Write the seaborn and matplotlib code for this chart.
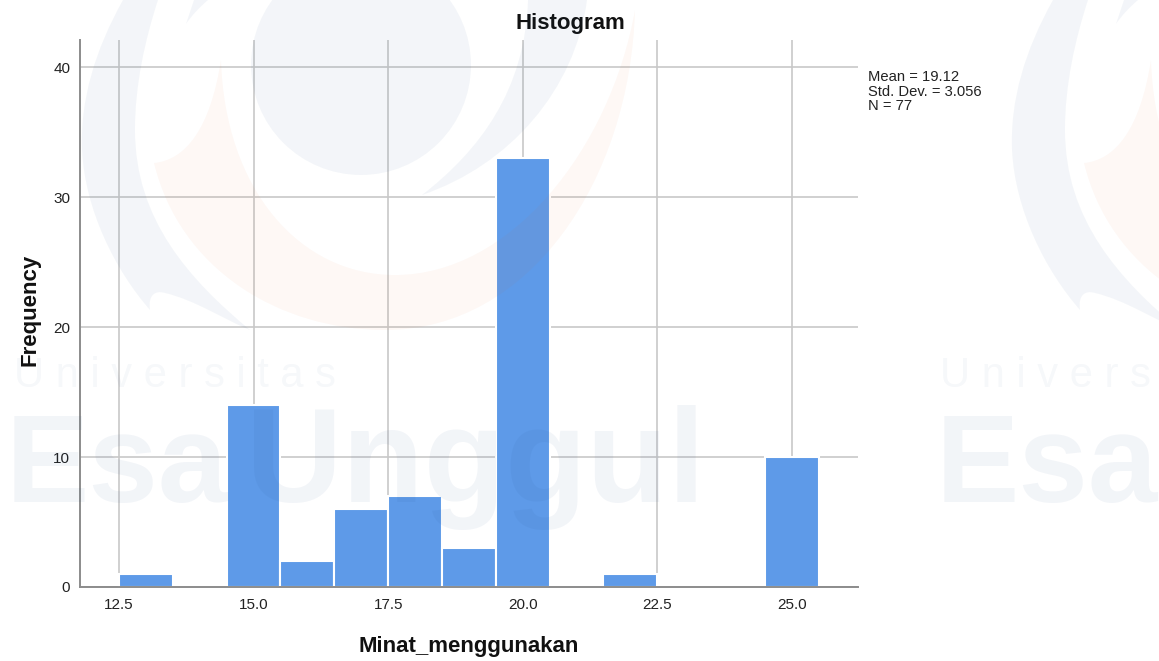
import matplotlib
matplotlib.use('Agg')
import matplotlib.pyplot as plt
from matplotlib.patches import PathPatch
from matplotlib.path import Path
import matplotlib.patches as mpatches
import seaborn as sns

# Nilai dan frekuensi
nilai = [13, 15, 16, 17, 18, 19, 20, 22, 25]
frekuensi = [1, 14, 2, 6, 7, 3, 33, 1, 10]
x_ticks = [12.5, 15.0, 17.5, 20.0, 22.5, 25.0]
y_ticks = [0, 10, 20, 30, 40]
stat_lines = ['Mean = 19.12', 'Std. Dev. = 3.056', 'N = 77']

W, H = 1159, 661
WM_BLUE = '#1f4e8c'
WM_ORANGE = '#e8621a'


def kurva(ax, start, segmen, warna, alpha, dx=0):
    # bentuk watermark dari kurva bezier, koordinat piksel
    verts = [(start[0] + dx, start[1])]
    codes = [Path.MOVETO]
    for seg in segmen:
        for p in seg:
            verts.append((p[0] + dx, p[1]))
            codes.append(Path.CURVE4)
    verts.append(verts[0])
    codes.append(Path.CLOSEPOLY)
    ax.add_patch(PathPatch(Path(verts, codes), facecolor=warna, edgecolor='none', alpha=alpha))


def gambar_logo(ax, dx):
    ax.add_patch(mpatches.Circle((361 + dx, 65), 110, facecolor=WM_BLUE, edgecolor='none', alpha=0.05))
    kurva(ax, (221, 60), [[(225, 190), (300, 275), (395, 275)],
                          [(510, 275), (610, 150), (635, 10)],
                          [(630, 180), (530, 330), (385, 330)],
                          [(280, 330), (180, 270), (154, 163)],
                          [(185, 160), (210, 130), (221, 60)]], WM_ORANGE, 0.045, dx)
    kurva(ax, (123, 0), [[(95, 50), (80, 100), (82, 150)],
                         [(85, 210), (115, 270), (150, 310)],
                         [(148, 295), (155, 290), (165, 293)],
                         [(195, 300), (225, 320), (250, 330)],
                         [(190, 280), (135, 220), (135, 130)],
                         [(135, 85), (145, 40), (158, 0)]], WM_BLUE, 0.05, dx)
    kurva(ax, (528, 0), [[(525, 90), (480, 150), (422, 195)],
                         [(510, 165), (575, 90), (587, 0)]], WM_BLUE, 0.05, dx)
    kurva(ax, (186, 24), [[(192, 15), (200, 7), (208, 0)],
                          [(203, 0), (198, 0), (194, 0)]], WM_BLUE, 0.05, dx)


sns.set_theme(style='white')
plt.rcParams['font.family'] = ['Liberation Sans', 'DejaVu Sans']

fig = plt.figure(figsize=(W / 100, H / 100), dpi=100)

# Area plot: kiri 80, kanan 858, atas 40, bawah 587
ax = fig.add_axes([80 / W, 1 - 587 / H, (858 - 80) / W, (587 - 40) / H], zorder=1)

sns.histplot(x=nilai, weights=frekuensi, binwidth=1, binrange=(12.5, 25.5),
             color='#5e9ae8', alpha=1, edgecolor='white', linewidth=1.5, ax=ax, zorder=3)

ax.set_xlim(11.775, 26.23)
ax.set_ylim(0, 42.08)
ax.set_xticks(x_ticks)
ax.set_xticklabels([f'{v:.1f}' for v in x_ticks])
ax.set_yticks(y_ticks)
ax.grid(True, color='#c8c8c8', linewidth=1.2, zorder=1)
ax.set_axisbelow(True)
sns.despine(ax=ax)
for side in ['left', 'bottom']:
    ax.spines[side].set_color('#8c8c8c')
    ax.spines[side].set_linewidth(1.4)
    ax.spines[side].set_zorder(4)
ax.tick_params(axis='x', length=0, labelsize=11, colors='#222222', pad=8)
ax.tick_params(axis='y', length=0, labelsize=11, colors='#222222', pad=7)

ax.set_xlabel('Minat_menggunakan', fontsize=16, fontweight='bold', color='#111111', labelpad=17)
ax.set_ylabel('Frequency', fontsize=16, fontweight='bold', color='#111111', labelpad=9, y=0.507)

# Judul tidak di tengah sumbu, sedikit ke kanan
fig.text(570 / W, 1 - 24 / H, 'Histogram', fontsize=16, fontweight='bold', color='#111111',
         va='center', ha='center')
fig.text(868 / W, 1 - 70 / H, '\n'.join(stat_lines), fontsize=10.6, color='#222222',
         va='top', ha='left', linespacing=1.05)

# Watermark menimpa seluruh grafik, jadi batang ikut lebih gelap
wm = fig.add_axes([0, 0, 1, 1], zorder=5)
wm.set_xlim(0, W)
wm.set_ylim(H, 0)
wm.axis('off')
gambar_logo(wm, 0)
gambar_logo(wm, 930)
wm.text(14, 376, 'U n i v e r s i t a s', fontsize=30, color=WM_BLUE, alpha=0.04, va='center', ha='left')
wm.text(940, 376, 'U n i v e r s', fontsize=30, color=WM_BLUE, alpha=0.04, va='center', ha='left')
wm.text(6, 502, 'Esa', fontsize=90, fontweight='bold', color=WM_BLUE, alpha=0.055, va='baseline', ha='left')
wm.text(246, 502, 'Unggul', fontsize=96, fontweight='bold', color=WM_BLUE, alpha=0.055, va='baseline', ha='left')
wm.text(936, 502, 'Esa', fontsize=90, fontweight='bold', color=WM_BLUE, alpha=0.055, va='baseline', ha='left')

fig.savefig('out.png', dpi=100)
